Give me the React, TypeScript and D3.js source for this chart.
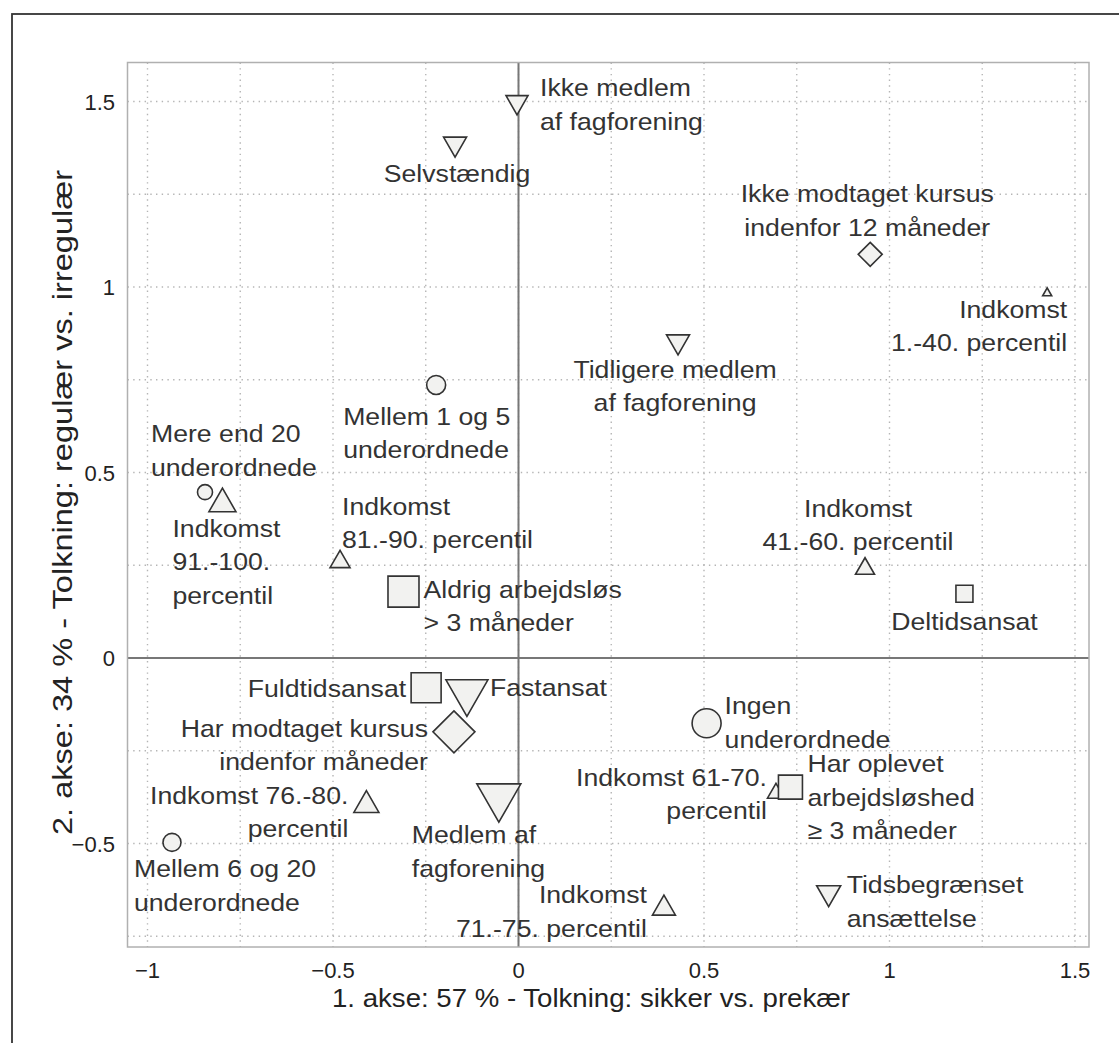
import React from 'react';
import * as d3 from 'd3';

const W = 1119;
const H = 1043;

// categories of the correspondence analysis
const categories = [
  'Ikke medlem\naf fagforening',
  'Selvstændig',
  'Ikke modtaget kursus\nindenfor 12 måneder',
  'Indkomst\n1.-40. percentil',
  'Tidligere medlem\naf fagforening',
  'Mellem 1 og 5\nunderordnede',
  'Mere end 20\nunderordnede',
  'Indkomst\n91.-100.\npercentil',
  'Indkomst\n81.-90. percentil',
  'Aldrig arbejdsløs\n> 3 måneder',
  'Indkomst\n41.-60. percentil',
  'Deltidsansat',
  'Fuldtidsansat',
  'Fastansat',
  'Har modtaget kursus\nindenfor måneder',
  'Ingen\nunderordnede',
  'Indkomst 61-70.\npercentil',
  'Har oplevet\narbejdsløshed\n≥ 3 måneder',
  'Indkomst 76.-80.\npercentil',
  'Medlem af\nfagforening',
  'Mellem 6 og 20\nunderordnede',
  'Indkomst\n71.-75. percentil',
  'Tidsbegrænset\nansættelse',
];

// coordinates on 1st and 2nd axis
const axis1 = [
  -0.004, -0.171, 0.948, 1.425, 0.43, -0.222, -0.845, -0.798, -0.481, -0.31, 0.934, 1.202,
  -0.249, -0.139, -0.174, 0.507, 0.694, 0.733, -0.41, -0.053, -0.934, 0.392, 0.836,
];
const axis2 = [
  1.49, 1.377, 1.088, 0.987, 0.844, 0.736, 0.447, 0.426, 0.267, 0.179, 0.248, 0.173,
  -0.08, -0.108, -0.199, -0.176, -0.358, -0.348, -0.387, -0.391, -0.497, -0.666, -0.642,
];

// variable group -> marker shape
const groups = [
  'down', 'down', 'diamond', 'up', 'down', 'circle', 'circle', 'up', 'up', 'square', 'up', 'square',
  'square', 'down', 'diamond', 'circle', 'up', 'square', 'up', 'down', 'circle', 'up', 'down',
];

// relative weight of each category (marker size)
const mass = [
  2.2, 2.3, 2.4, 0.9, 2.3, 1.9, 1.5, 2.7, 2.0, 3.1, 1.9, 1.7,
  3.0, 4.2, 4.2, 2.9, 1.7, 2.4, 2.5, 4.4, 1.8, 2.3, 2.4,
];

const xTicks = [-1, -0.5, 0, 0.5, 1, 1.5];
const yTicks = [-0.5, 0, 0.5, 1, 1.5];

const xTitle = '1. akse: 57 % - Tolkning: sikker vs. prekær';
const yTitle = '2. akse: 34 % - Tolkning: regulær vs. irregulær';

// label placement relative to its marker: anchor, dx, dy (first baseline)
const labelLayout: [string, number, number][] = [
  ['start', 23, -9],
  ['middle', 2, 35],
  ['middle', -3, -52],
  ['end', 20, 26],
  ['middle', -3, 33],
  ['start', -93, 40],
  ['start', -54, -50],
  ['start', -50, 37],
  ['start', 2, -44],
  ['start', 20, 6],
  ['middle', -7, -49],
  ['middle', 0, 36],
  ['end', -20, 9],
  ['start', 23, -2],
  ['end', -26, 5],
  ['start', 18, -9],
  ['end', -9, -5],
  ['start', 17, -15],
  ['end', -18, 2],
  ['start', -87, 40],
  ['start', -38, 35],
  ['end', -17, -2],
  ['start', 18, -3],
];

const plot = { left: 127.5, top: 62.5, right: 1089, bottom: 947 };
const FONT = "'Liberation Sans', Arial, Helvetica, sans-serif";
const LINE = 33.5;
const STRETCH = 1.11;

const fmt = (v: number) => (v < 0 ? '\u2212' : '') + String(Math.abs(v));

function markerPath(shape: string, w: number): string {
  const h = w / 2;
  const th = w * 0.87;
  const p = d3.path();
  if (shape === 'up') {
    p.moveTo(-h, th / 2);
    p.lineTo(h, th / 2);
    p.lineTo(0, -th / 2);
    p.closePath();
  } else if (shape === 'down') {
    p.moveTo(-h, -th / 2);
    p.lineTo(h, -th / 2);
    p.lineTo(0, th / 2);
    p.closePath();
  } else if (shape === 'square') {
    p.rect(-h, -h, w, w);
  } else if (shape === 'diamond') {
    p.moveTo(0, -h);
    p.lineTo(h, 0);
    p.lineTo(0, h);
    p.lineTo(-h, 0);
    p.closePath();
  } else {
    p.arc(0, 0, h, 0, Math.PI * 2);
    p.closePath();
  }
  return p.toString();
}

export default function App() {
  const x = d3.scaleLinear().domain([-1, 1.5]).range([147.5, 1075]);
  const y = d3.scaleLinear().domain([-0.5, 1.5]).range([843.5, 101.5]);
  const size = d3.scaleLinear().domain([0, 1]).range([0, 10]);

  const xGrid = d3.range(-1, 1.51, 0.25);
  const yGrid = d3.range(-0.75, 1.51, 0.25);

  return (
    <svg
      width={W}
      height={H}
      style={{ position: 'absolute', left: 0, top: 0, background: '#fff' }}
      fontFamily={FONT}
    >
      <rect x={12} y={14} width={1130} height={1050} fill="none" stroke="#333" strokeWidth={1.8} />

      {/* grid */}
      <g stroke="#b5b5b5" strokeWidth={1.4} strokeDasharray="1.4 4.3">
        {xGrid.map((v) => (
          <line key={'gx' + v} x1={x(v)} x2={x(v)} y1={plot.top} y2={plot.bottom} />
        ))}
        {yGrid.map((v) => (
          <line key={'gy' + v} x1={plot.left} x2={plot.right} y1={y(v)} y2={y(v)} />
        ))}
      </g>

      {/* zero axes */}
      <line x1={x(0)} x2={x(0)} y1={plot.top} y2={plot.bottom} stroke="#777" strokeWidth={2} />
      <line x1={plot.left} x2={plot.right} y1={y(0)} y2={y(0)} stroke="#777" strokeWidth={2} />

      <rect
        x={plot.left}
        y={plot.top}
        width={plot.right - plot.left}
        height={plot.bottom - plot.top}
        fill="none"
        stroke="#b0b0b0"
        strokeWidth={1.5}
      />

      {/* tick labels */}
      <g fontSize={22} fill="#222">
        {xTicks.map((v) => (
          <text key={'tx' + v} x={x(v)} y={978} textAnchor="middle">
            {fmt(v)}
          </text>
        ))}
        {yTicks.map((v) => (
          <text key={'ty' + v} x={115} y={y(v) + 8} textAnchor="end">
            {fmt(v)}
          </text>
        ))}
      </g>

      {/* axis titles */}
      <text x={332} y={1007} fontSize={26} fill="#222" textLength={518} lengthAdjust="spacingAndGlyphs">
        {xTitle}
      </text>
      <text
        transform={`translate(72,${(835 + 170) / 2}) rotate(-90)`}
        textAnchor="middle"
        fontSize={27}
        fill="#222"
        textLength={665}
        lengthAdjust="spacingAndGlyphs"
      >
        {yTitle}
      </text>

      {/* points */}
      <g fill="#f2f2f0" stroke="#333" strokeWidth={1.6}>
        {categories.map((c, i) => (
          <path
            key={'p' + i}
            transform={`translate(${x(axis1[i])},${y(axis2[i])})`}
            d={markerPath(groups[i], size(mass[i]))}
          />
        ))}
      </g>

      {/* labels */}
      <g fontSize={24} fill="#333">
        {categories.map((c, i) => {
          const [anchor, dx, dy] = labelLayout[i];
          const px = x(axis1[i]) + dx;
          const py = y(axis2[i]) + dy;
          return (
            <text
              key={'l' + i}
              textAnchor={anchor}
              transform={`translate(${px},${py}) scale(${STRETCH},1)`}
            >
              {c.split('\n').map((line, j) => (
                <tspan key={j} x={0} y={j * LINE}>
                  {line}
                </tspan>
              ))}
            </text>
          );
        })}
      </g>
    </svg>
  );
}
